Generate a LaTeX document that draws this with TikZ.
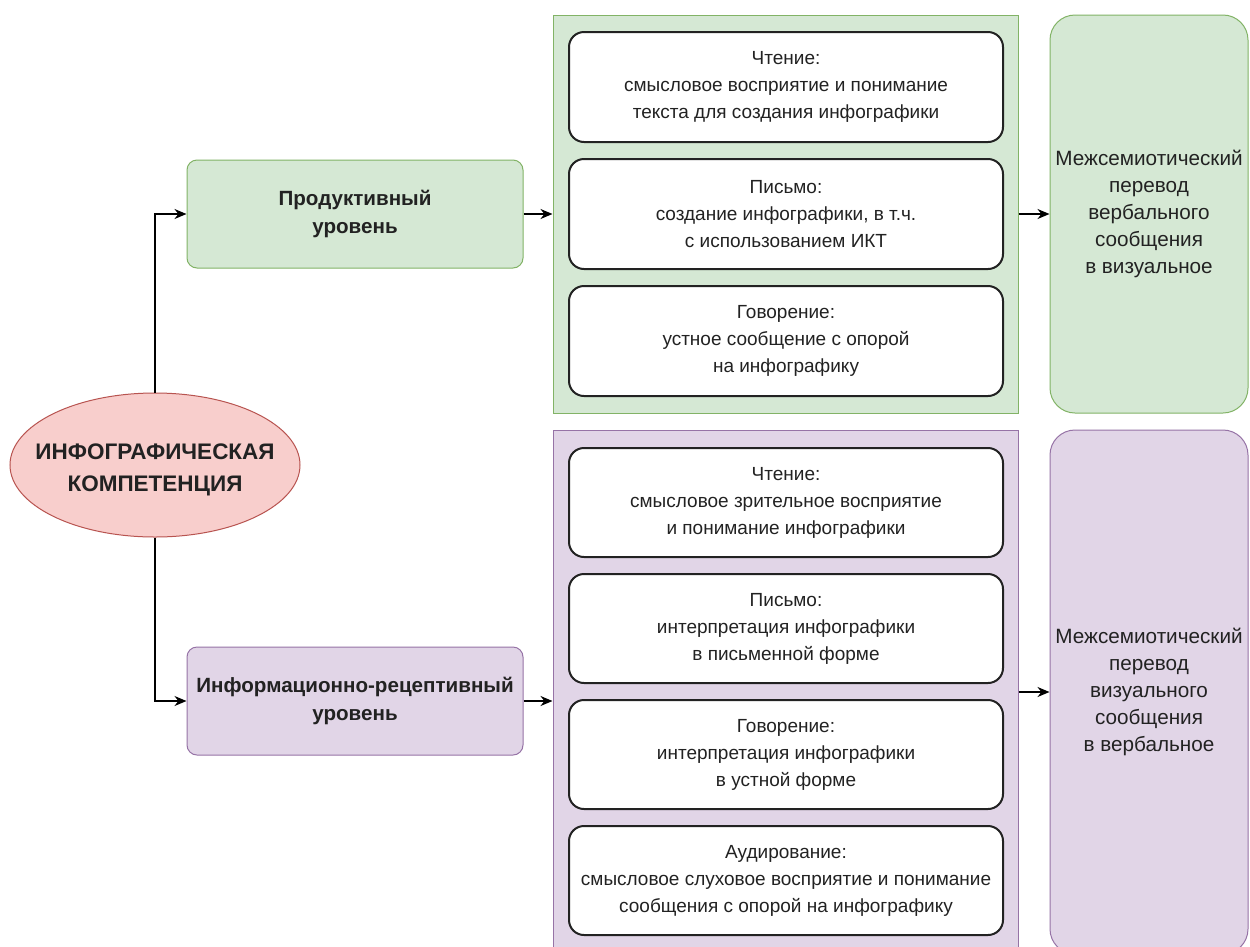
\documentclass[tikz,border=0pt]{standalone}
\usepackage{fontspec}
\setmainfont{Liberation Sans}
\usetikzlibrary{shapes.geometric,arrows.meta}
\definecolor{gfill}{HTML}{D5E8D4}
\definecolor{gline}{HTML}{82B366}
\definecolor{pfill}{HTML}{E1D5E7}
\definecolor{pline}{HTML}{9673A6}
\definecolor{rfill}{HTML}{F8CECC}
\definecolor{rline}{HTML}{B85450}
\definecolor{ink}{HTML}{222222}
\begin{document}
\begin{tikzpicture}[x=1pt,y=-1pt,
  lvl/.style={draw, rounded corners=10pt, minimum width=336pt, minimum height=108pt, inner sep=0pt, align=center, font=\fontsize{20.6}{28}\selectfont\bfseries, line width=1pt, text=ink},
  cont/.style={draw, minimum width=465pt, inner sep=0pt, line width=1pt},
  inbox/.style={draw=ink, fill=white, line width=2pt, rounded corners=15pt, minimum width=434pt, align=center, inner sep=0pt, font=\fontsize{19}{27}\selectfont, text=ink},
  rbox/.style={draw, rounded corners=25pt, minimum width=198pt, inner sep=0pt, align=center, line width=1pt, font=\fontsize{20.7}{27}\selectfont, text=ink},
  arr/.style={-{Stealth[length=12pt,width=10pt]}, line width=1.5pt, black}]
\useasboundingbox (0,0) rectangle (1250,946);
\fill[white] (0,0) rectangle (1250,946);

% central ellipse
\node[ellipse, draw=rline, fill=rfill, line width=1pt, minimum width=290pt, minimum height=144pt, inner sep=0pt] (ell) at (155,465) {};
\node[align=center, inner sep=0pt, font=\fontsize{22.5}{32}\selectfont\bfseries, text=ink] (elltext) at (155,470) {ИНФОГРАФИЧЕСКАЯ\\КОМПЕТЕНЦИЯ};

% level boxes
\node[lvl, draw=gline, fill=gfill] (prod) at (355,214) {Продуктивный\\уровень};
\node[lvl, draw=pline, fill=pfill] (recp) at (355,701) {Информационно-рецептивный\\уровень};

% containers
\node[cont, draw=gline, fill=gfill, minimum height=398pt] (gcont) at (785.5,214) {};
\node[cont, draw=pline, fill=pfill, minimum height=524pt] (pcont) at (785.5,692) {};

% green inner boxes
\node[inbox, minimum height=110pt] (g1) at (786,87) {Чтение:\\смысловое восприятие и понимание\\текста для создания инфографики};
\node[inbox, minimum height=110pt] (g2) at (786,214) {Письмо:\\создание инфографики, в т.ч.\\с использованием ИКТ};
\node[inbox, minimum height=110pt] (g3) at (786,341) {Говорение:\\устное сообщение с опорой\\на инфографику};

% purple inner boxes
\node[inbox, minimum height=109pt] (p1) at (786,502.5) {Чтение:\\смысловое зрительное восприятие\\и понимание инфографики};
\node[inbox, minimum height=109pt] (p2) at (786,628.5) {Письмо:\\интерпретация инфографики\\в письменной форме};
\node[inbox, minimum height=109pt] (p3) at (786,754.5) {Говорение:\\интерпретация инфографики\\в устной форме};
\node[inbox, minimum height=109pt] (p4) at (786,880.5) {Аудирование:\\смысловое слуховое восприятие и понимание\\сообщения с опорой на инфографику};

% right boxes
\node[rbox, draw=gline, fill=gfill, minimum height=398pt] (gr) at (1149,214) {Межсемиотический\\перевод\\вербального\\сообщения\\в визуальное};
\node[rbox, draw=pline, fill=pfill, minimum height=524pt] (pr) at (1149,692) {Межсемиотический\\перевод\\визуального\\сообщения\\в вербальное};

% connectors
\draw[arr] (ell.north) |- (prod.west);
\draw[arr] (ell.south) |- (recp.west);
\draw[arr] (prod.east) -- (gcont.west);
\draw[arr] (recp.east) -- (recp.east -| pcont.west);
\draw[arr] (gcont.east) -- (gr.west);
\draw[arr] (pcont.east) -- (pr.west);
\end{tikzpicture}
\end{document}
